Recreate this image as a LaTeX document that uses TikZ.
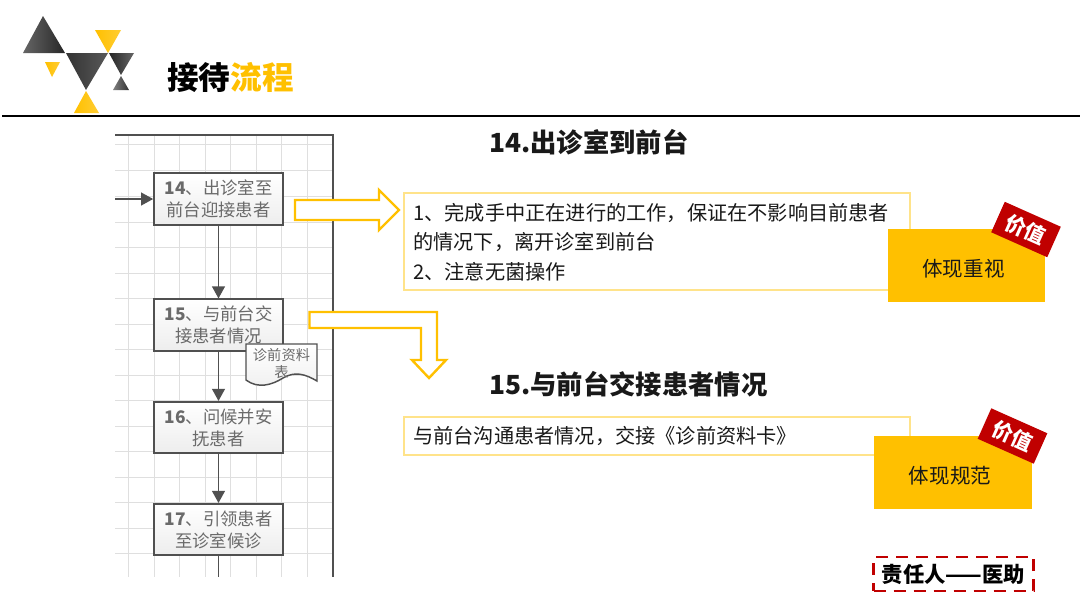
\documentclass[tikz,border=0pt]{standalone}
\usepackage{fontspec}
\setmainfont{Noto Sans CJK SC}
\usetikzlibrary{arrows.meta,shadows}
\definecolor{gold}{HTML}{FFC000}
\definecolor{paleGold}{HTML}{FFE38A}
\definecolor{deepRed}{HTML}{C00000}
\definecolor{flowInk}{HTML}{505050}
\definecolor{flowText}{HTML}{6A6A6A}
\definecolor{gridGrey}{HTML}{DFDFDF}
\tikzset{
  x=0.75pt,y=-0.75pt,
  gridline/.style={draw=gridGrey,line width=0.75pt},
  frameline/.style={draw=flowInk,line width=1.3pt},
  flowbox/.style={draw=flowInk,line width=1.2pt,top color=white,bottom color=gray!14,
    minimum width=96.75pt,minimum height=38.6pt,inner sep=0pt,align=center,
    text=flowText,font=\fontsize{13}{16.5}\selectfont,
    drop shadow={shadow xshift=0.8pt,shadow yshift=-0.8pt,opacity=0.2}},
  flowarrow/.style={draw=flowInk,line width=1.3pt,-{Triangle[length=9pt,width=9.5pt]}},
  hollowarrow/.style={draw=gold,line width=1.8pt,fill=white,line join=miter},
  notebox/.style={draw=paleGold,line width=0.8pt,fill=white,minimum width=379.5pt,inner sep=0pt},
  notetext/.style={anchor=west,align=left,inner sep=0pt,font=\fontsize{15.15}{22.2}\selectfont,text=black!90},
  valuebox/.style={fill=gold,minimum width=118pt,minimum height=54.8pt,inner sep=0pt},
  valuetext/.style={inner sep=0pt,font=\fontsize{15.4}{18}\selectfont,text=black!90},
  valuetag/.style={fill=deepRed,minimum width=46pt,minimum height=25pt,inner sep=0pt,
    text=white,font=\bfseries\fontsize{15.5}{18}\selectfont},
  heading/.style={anchor=west,inner sep=0pt,font=\bfseries\fontsize{19.75}{24}\selectfont,text=black!90},
}
\newcommand{\darktri}[3]{\shade[left color=#1,right color=#2] #3;}
\begin{document}
\begin{tikzpicture}
\useasboundingbox (0,0) rectangle (1080,608);
\fill[white] (0,0) rectangle (1080,608);

% logo
\darktri{black!60}{black!85}{(43,16) -- (65,53) -- (23,53) -- cycle}
\darktri{black!80}{black!65}{(66,53) -- (108,53) -- (86,90) -- cycle}
\darktri{black!85}{black!60}{(109,53) -- (134,53) -- (121,75) -- cycle}
\darktri{black!50}{black!80}{(121,76) -- (129,90) -- (113,90) -- cycle}
\darktri{gold}{gold!80!white}{(95,30) -- (121,30) -- (108,53) -- cycle}
\darktri{gold}{gold!80!white}{(45,62) -- (60,62) -- (52,77) -- cycle}
\darktri{gold}{gold!80!white}{(86,91) -- (99,113) -- (74,113) -- cycle}

\node[inner sep=0pt,font=\bfseries\fontsize{23.7}{28}\selectfont] (pagetitle) at (230.5,77)
  {接待\textcolor{gold}{流程}};
\draw[black,line width=1.9pt] (2,116) -- (1080,116);

% flowchart sheet
\foreach \gx in {128,154,179,205,230,256,281,307}
  \draw[gridline] (\gx,135) -- (\gx,577);
\foreach \gy in {144,170,196,222,247,273,298,324,349,375,400,426,451,477,502,528,553}
  \draw[gridline] (115,\gy) -- (333,\gy);
\draw[frameline] (115,135) -- (333,135) -- (333,577);

\coordinate (entry) at (115,199);
\coordinate (exit) at (218.5,577);
\node[flowbox] (s14) at (218.5,199) {\textbf{14}、出诊室至\\前台迎接患者};
\node[flowbox] (s15) at (218.5,325) {\textbf{15}、与前台交\\接患者情况};
\node[flowbox] (s16) at (218.5,427.5) {\textbf{16}、问候并安\\抚患者};
\node[flowbox] (s17) at (218.5,529.5) {\textbf{17}、引领患者\\至诊室候诊};

\draw[flowarrow] (entry) -- (s14);
\draw[flowarrow] (s14) -- (s15);
\draw[flowarrow] (s15) -- (s16);
\draw[flowarrow] (s16) -- (s17);
\draw[frameline] (s17) -- (exit);

% document symbol
\draw[draw=flowInk,line width=1.1pt,top color=white,bottom color=gray!12]
  (246,344) -- (317,344) -- (317,381)
  .. controls (305,374) and (295,371) .. (283,378)
  .. controls (272,385) and (258,389) .. (246,380) -- cycle;
\node[inner sep=0pt,align=center,text=flowText,font=\fontsize{10.7}{12.75}\selectfont] (docnote) at (281.5,364) {诊前资料\\表};

% hollow arrows
\draw[hollowarrow] (295,200) -- (379,200) -- (379,190) -- (399,210) -- (379,230) -- (379,220) -- (295,220) -- cycle;
\draw[hollowarrow] (309.5,312) -- (437,312) -- (437,360) -- (446,360) -- (429,378) -- (412,360) -- (421,360) -- (421,328) -- (309.5,328) -- cycle;

% section 14
\node[heading] (h14) at (489,142) {14.出诊室到前台};
\node[notebox,minimum height=72.75pt] (note14) at (657,241.5) {};
\node[notetext] (text14) at (413,242) {1、完成手中正在进行的工作，保证在不影响目前患者\\的情况下，离开诊室到前台\\2、注意无菌操作};
\node[valuebox] (val14) at (966.5,265.5) {};
\node[valuetext] (valtext14) at (963.5,269) {体现重视};
\node[valuetag,rotate=-24] (tag14) at (1026,229.5) {价值};

% section 15
\node[heading] (h15) at (489,384) {15.与前台交接患者情况};
\node[notebox,minimum height=28.5pt] (note15) at (657,436) {};
\node[notetext] (text15) at (413,436) {与前台沟通患者情况，交接《诊前资料卡》};
\node[valuebox] (val15) at (953,472.5) {};
\node[valuetext] (valtext15) at (950,476) {体现规范};
\node[valuetag,rotate=-24] (tag15) at (1012.5,436) {价值};

% owner
\node[draw=deepRed,line width=2.2pt,dash pattern=on 9pt off 6pt,minimum width=120pt,minimum height=25.5pt,
  inner sep=0pt,font=\bfseries\fontsize{16}{18}\selectfont,text=black] (owner) at (953.5,574) {责任人——医助};
\end{tikzpicture}
\end{document}
